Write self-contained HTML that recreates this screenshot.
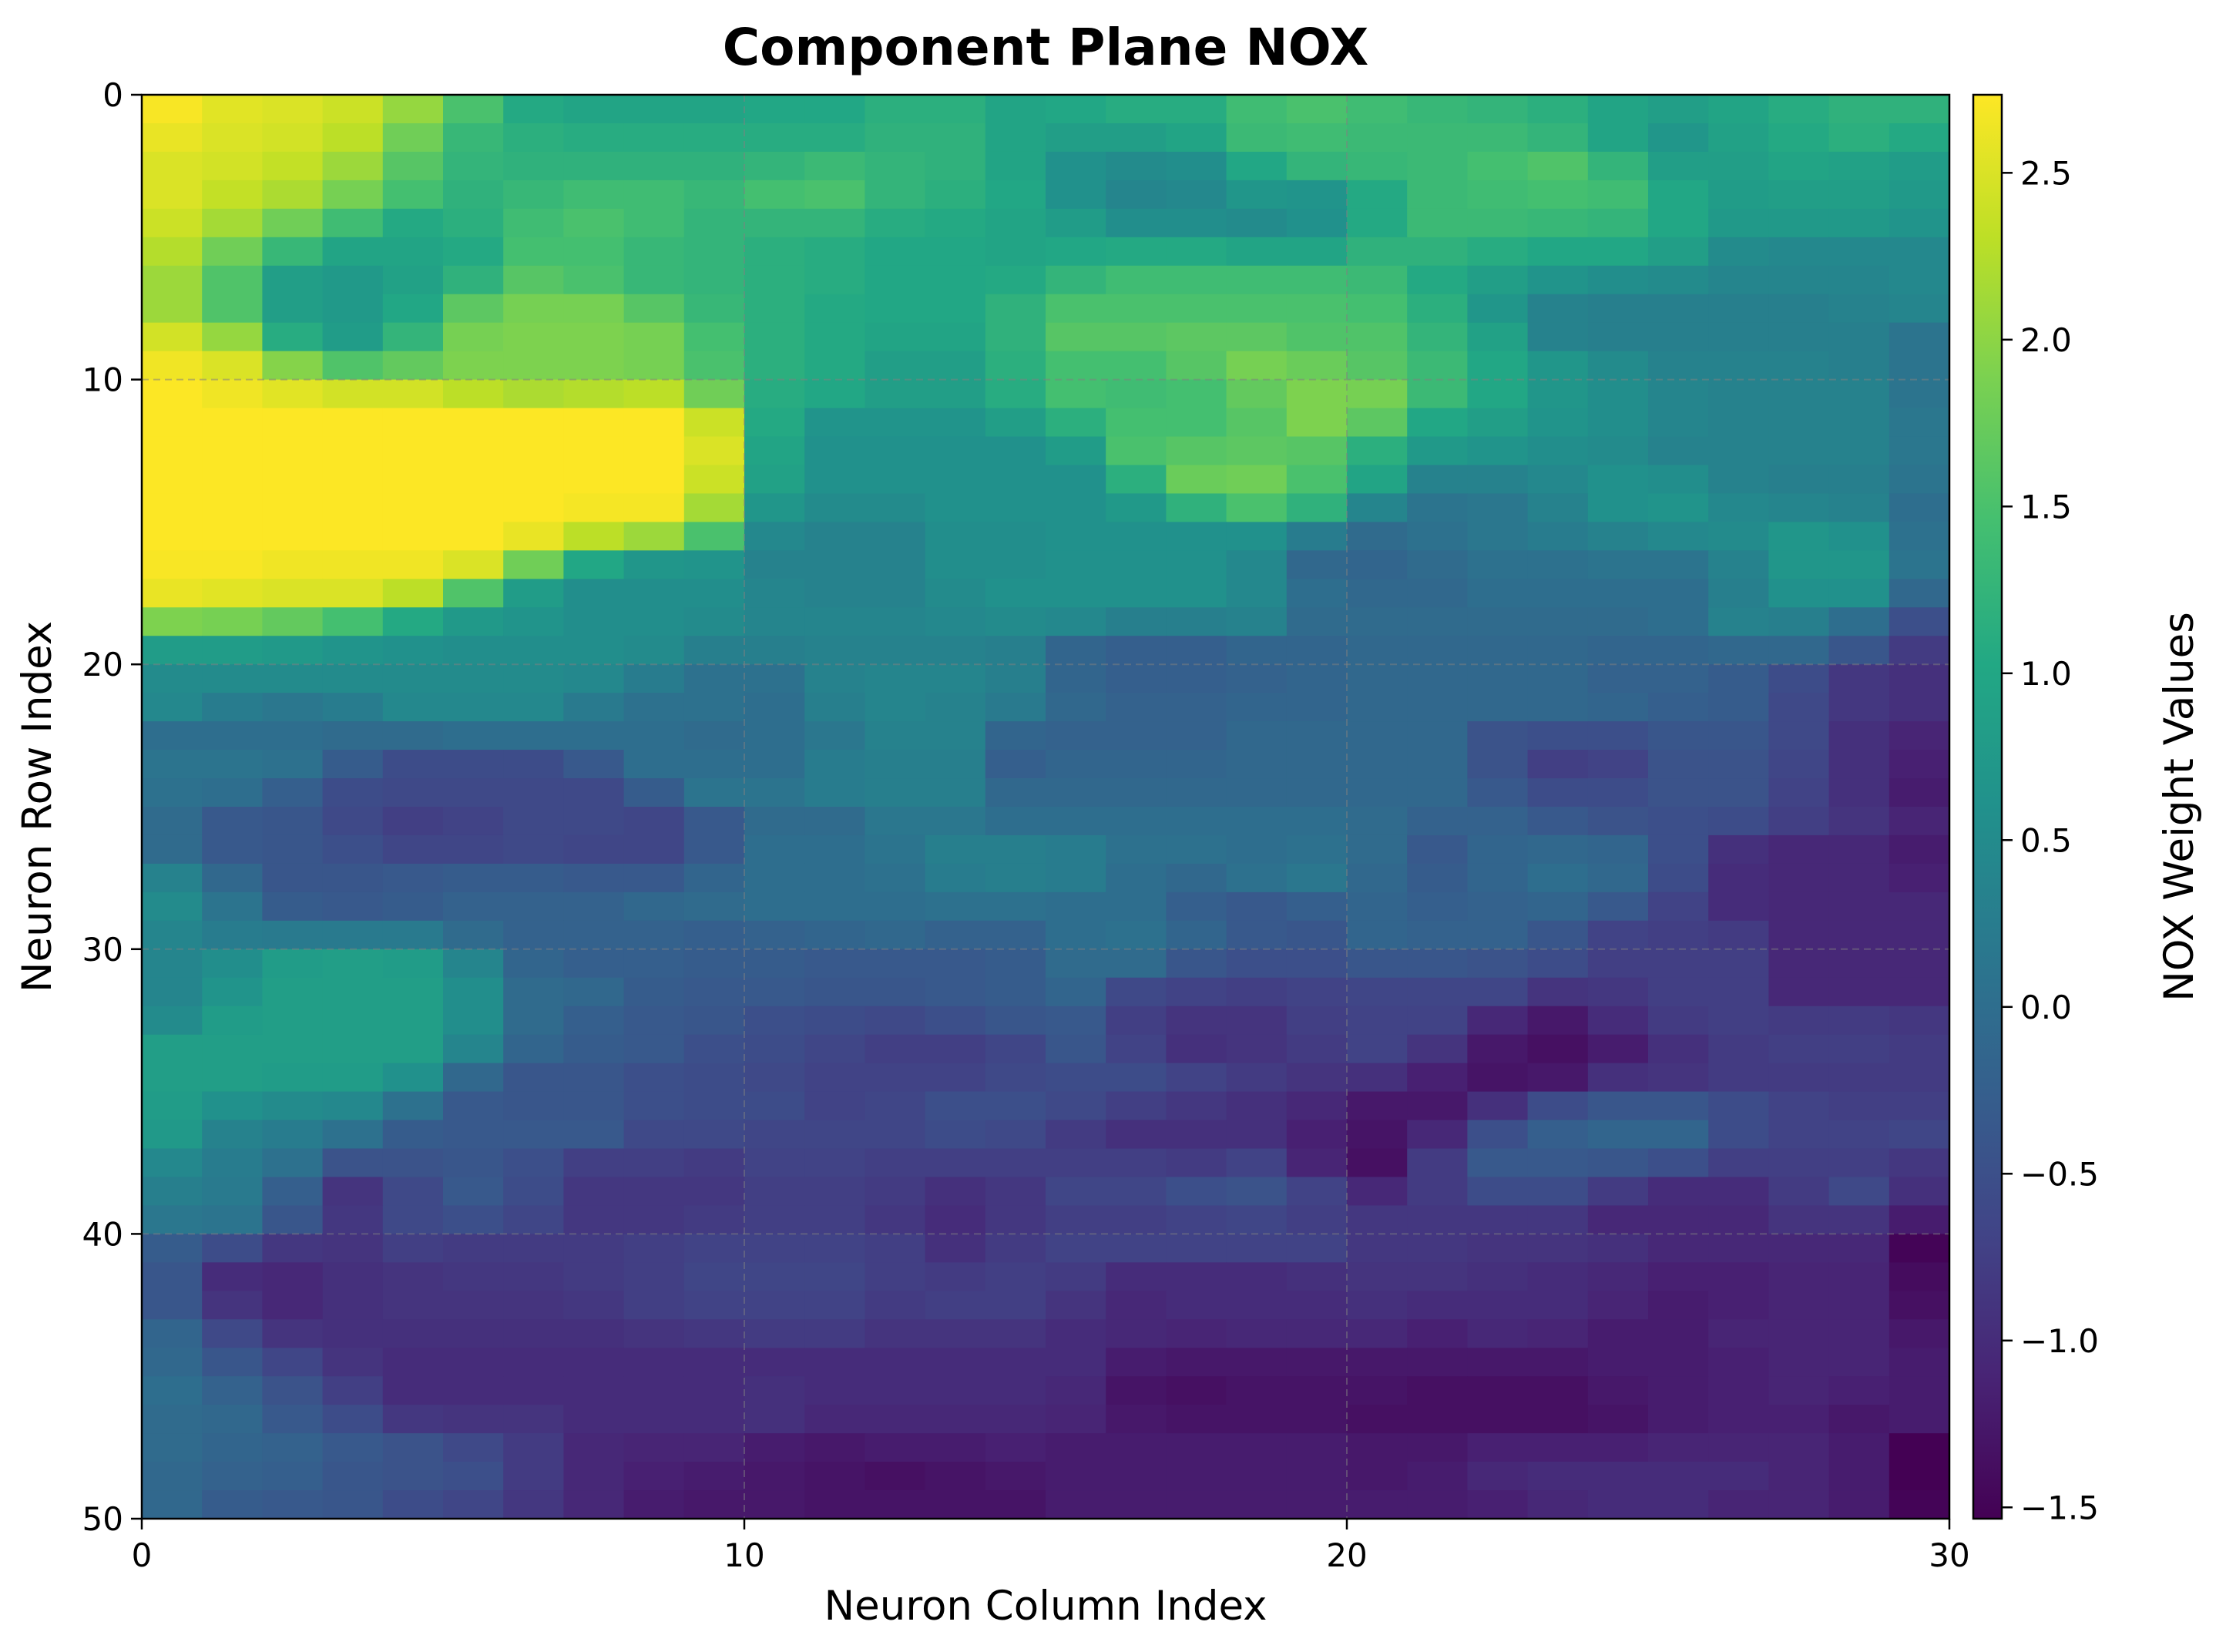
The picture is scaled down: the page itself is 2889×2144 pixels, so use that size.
<!DOCTYPE html>
<html><head><meta charset="utf-8">
<style>
html,body{margin:0;padding:0;background:#fff;}
svg{display:block;font-family:"DejaVu Sans","Liberation Sans",sans-serif;}
</style></head>
<body>
<svg id="chart" width="2889" height="2144" viewBox="0 0 2889 2144" xmlns="http://www.w3.org/2000/svg">
<rect width="2889" height="2144" fill="#fff"/>
<text x="1357" y="84" text-anchor="middle" font-size="66" font-weight="bold">Component Plane NOX</text>
<g id="heat"></g>
<g id="grid"></g>
<rect x="184" y="123" width="2346" height="1848" fill="none" stroke="#000" stroke-width="2.5"/>
<g id="xt"></g>
<g id="yt"></g>
<text x="1357" y="2102" text-anchor="middle" font-size="53">Neuron Column Index</text>
<text transform="translate(66,1047) rotate(-90)" text-anchor="middle" font-size="53">Neuron Row Index</text>
<defs><linearGradient id="vg" x1="0" y1="1" x2="0" y2="0"></linearGradient></defs>
<rect x="2561" y="123" width="37" height="1848" fill="url(#vg)" stroke="#000" stroke-width="2.5"/>
<g id="ct"></g>
<text transform="translate(2846,1047) rotate(-90)" text-anchor="middle" font-size="53">NOX Weight Values</text>
</svg>
<script>
const xTicks=[0,10,20,30];
const yTicks=[0,10,20,30,40,50];
const cbTicks=[2.5,2.0,1.5,1.0,0.5,0.0,-0.5,-1.0,-1.5];
const cbLabels=["2.5","2.0","1.5","1.0","0.5","0.0","\u22120.5","\u22121.0","\u22121.5"];
const vmin=-1.534, vmax=2.734;
const left=[
[2.7,2.55,2.5,2.4,2.05,1.5,1.05,0.95,0.95,0.95,1.0,1.0,1.15,1.15,0.95],
[2.6,2.5,2.45,2.3,1.8,1.3,1.15,1.1,1.1,1.1,1.1,1.1,1.2,1.2,0.95],
[2.5,2.45,2.35,2.1,1.6,1.25,1.2,1.2,1.2,1.2,1.25,1.35,1.25,1.2,0.95],
[2.5,2.35,2.2,1.85,1.45,1.2,1.3,1.4,1.4,1.3,1.45,1.5,1.25,1.15,1.0],
[2.4,2.15,1.8,1.4,1.05,1.15,1.4,1.5,1.4,1.25,1.25,1.25,1.1,1.05,0.95],
[2.25,1.8,1.3,0.95,0.95,1.05,1.45,1.45,1.3,1.25,1.15,1.1,1.0,1.0,0.95],
[2.1,1.55,0.85,0.75,0.9,1.2,1.6,1.5,1.3,1.25,1.15,1.1,1.0,1.0,1.05],
[2.1,1.55,0.85,0.75,1.0,1.65,1.85,1.85,1.6,1.3,1.15,1.05,1.0,1.0,1.2],
[2.45,2.05,1.1,0.8,1.25,1.85,1.9,1.9,1.85,1.45,1.15,1.05,0.95,0.95,1.2],
[2.65,2.5,1.95,1.55,1.7,1.9,1.9,1.9,1.85,1.5,1.15,1.05,0.85,0.85,1.15],
[2.73,2.65,2.55,2.45,2.45,2.3,2.2,2.25,2.3,1.8,1.1,1.0,0.85,0.85,1.1],
[2.73,2.73,2.73,2.73,2.73,2.73,2.73,2.73,2.73,2.4,1.05,0.65,0.65,0.65,0.85],
[2.73,2.73,2.73,2.73,2.73,2.73,2.73,2.73,2.73,2.5,0.95,0.6,0.6,0.6,0.6],
[2.73,2.73,2.73,2.73,2.73,2.73,2.73,2.73,2.73,2.4,0.9,0.6,0.6,0.6,0.6],
[2.73,2.73,2.73,2.73,2.73,2.73,2.73,2.68,2.68,2.15,0.7,0.5,0.5,0.6,0.6],
[2.73,2.73,2.73,2.73,2.73,2.73,2.6,2.3,2.1,1.5,0.45,0.35,0.35,0.55,0.55],
[2.7,2.7,2.65,2.65,2.65,2.5,1.8,1.0,0.7,0.65,0.35,0.35,0.35,0.55,0.55],
[2.6,2.55,2.5,2.5,2.3,1.55,0.8,0.55,0.55,0.55,0.4,0.35,0.35,0.5,0.6],
[1.9,1.85,1.7,1.45,1.05,0.75,0.65,0.55,0.55,0.5,0.4,0.4,0.4,0.45,0.5],
[0.8,0.8,0.75,0.65,0.6,0.55,0.55,0.55,0.5,0.3,0.3,0.35,0.35,0.35,0.3],
[0.5,0.5,0.5,0.5,0.5,0.5,0.5,0.45,0.25,0.05,0.05,0.35,0.4,0.4,0.3],
[0.45,0.25,0.15,0.25,0.45,0.45,0.45,0.2,0.05,0.05,0.0,0.3,0.4,0.35,0.2],
[0.0,0.0,0.0,-0.05,-0.05,0.0,0.0,0.0,0.0,-0.05,0.0,0.15,0.35,0.35,-0.15],
[0.1,0.1,0.05,-0.3,-0.55,-0.55,-0.55,-0.35,0.0,0.0,0.0,0.25,0.3,0.3,-0.25],
[0.05,0.0,-0.25,-0.55,-0.6,-0.6,-0.6,-0.6,-0.3,0.1,0.1,0.25,0.3,0.3,-0.1],
[-0.05,-0.35,-0.4,-0.6,-0.75,-0.7,-0.6,-0.6,-0.65,-0.35,-0.05,-0.05,0.15,0.15,0.0],
[-0.05,-0.35,-0.4,-0.5,-0.65,-0.65,-0.6,-0.65,-0.65,-0.35,0.0,0.0,0.1,0.3,0.3],
[0.35,-0.1,-0.4,-0.4,-0.35,-0.3,-0.3,-0.35,-0.35,-0.15,0.0,0.0,0.05,0.25,0.3],
[0.5,0.1,-0.3,-0.35,-0.3,-0.2,-0.2,-0.2,-0.1,-0.05,0.0,0.0,0.0,0.05,0.05],
[0.4,0.25,0.2,0.2,0.2,-0.05,-0.2,-0.2,-0.2,-0.25,-0.2,-0.15,-0.1,-0.2,-0.2],
[0.4,0.55,0.8,0.85,0.8,0.4,-0.15,-0.25,-0.25,-0.3,-0.3,-0.35,-0.35,-0.35,-0.3],
[0.4,0.65,0.85,0.85,0.85,0.55,-0.05,-0.1,-0.3,-0.35,-0.35,-0.4,-0.4,-0.35,-0.3],
[0.5,0.8,0.85,0.85,0.85,0.55,-0.05,-0.25,-0.35,-0.4,-0.5,-0.55,-0.6,-0.5,-0.4],
[0.85,0.85,0.85,0.85,0.85,0.4,-0.15,-0.3,-0.35,-0.5,-0.55,-0.65,-0.75,-0.75,-0.65],
[0.85,0.85,0.8,0.8,0.6,-0.1,-0.4,-0.4,-0.5,-0.55,-0.6,-0.7,-0.7,-0.7,-0.6],
[0.8,0.6,0.5,0.45,0.05,-0.35,-0.4,-0.4,-0.5,-0.55,-0.55,-0.7,-0.65,-0.5,-0.5],
[0.75,0.35,0.25,0.05,-0.3,-0.35,-0.35,-0.35,-0.6,-0.6,-0.65,-0.65,-0.65,-0.55,-0.6],
[0.45,0.25,0.05,-0.45,-0.45,-0.4,-0.5,-0.75,-0.75,-0.8,-0.7,-0.7,-0.75,-0.75,-0.75],
[0.3,0.2,-0.25,-0.9,-0.6,-0.35,-0.55,-0.85,-0.85,-0.85,-0.75,-0.75,-0.8,-0.95,-0.85],
[0.15,0.1,-0.4,-0.85,-0.6,-0.5,-0.65,-0.85,-0.85,-0.8,-0.75,-0.75,-0.85,-1.0,-0.85],
[-0.3,-0.55,-0.85,-0.9,-0.75,-0.8,-0.8,-0.8,-0.75,-0.7,-0.7,-0.7,-0.75,-0.95,-0.8],
[-0.4,-1.0,-1.05,-0.95,-0.9,-0.85,-0.85,-0.8,-0.75,-0.65,-0.65,-0.65,-0.75,-0.8,-0.75],
[-0.4,-0.9,-1.05,-0.95,-0.9,-0.9,-0.9,-0.85,-0.75,-0.7,-0.7,-0.7,-0.8,-0.75,-0.75],
[-0.15,-0.6,-0.9,-0.95,-0.95,-0.95,-0.95,-0.95,-0.9,-0.85,-0.8,-0.8,-0.9,-0.9,-0.9],
[-0.1,-0.4,-0.65,-0.9,-1.0,-1.0,-1.0,-1.0,-1.0,-1.0,-1.0,-1.0,-1.0,-1.0,-1.0],
[0.0,-0.2,-0.45,-0.75,-1.0,-1.0,-1.0,-1.0,-1.0,-1.0,-0.95,-1.0,-1.0,-1.0,-1.0],
[-0.05,-0.1,-0.35,-0.55,-0.85,-0.9,-0.9,-1.0,-1.0,-1.0,-0.95,-1.05,-1.05,-1.05,-1.05],
[-0.05,-0.15,-0.2,-0.35,-0.45,-0.6,-0.8,-1.05,-1.1,-1.1,-1.2,-1.25,-1.2,-1.2,-1.15],
[-0.1,-0.2,-0.25,-0.4,-0.45,-0.5,-0.8,-1.05,-1.15,-1.2,-1.25,-1.3,-1.35,-1.3,-1.25],
[-0.1,-0.3,-0.35,-0.4,-0.55,-0.65,-0.85,-1.05,-1.2,-1.25,-1.25,-1.3,-1.3,-1.3,-1.3]];
const right=[
[1.0,1.1,1.1,1.4,1.5,1.4,1.3,1.25,1.15,0.95,0.85,0.95,1.1,1.2,1.2],
[0.85,0.85,0.95,1.35,1.4,1.35,1.35,1.35,1.25,0.95,0.7,0.9,1.05,1.15,1.05],
[0.6,0.5,0.55,1.0,1.25,1.3,1.35,1.45,1.55,1.25,0.85,0.85,0.95,0.9,0.8],
[0.6,0.4,0.45,0.7,0.65,1.05,1.35,1.4,1.45,1.4,1.0,0.8,0.85,0.85,0.75],
[0.8,0.55,0.55,0.5,0.6,1.05,1.35,1.35,1.3,1.25,1.0,0.75,0.75,0.75,0.65],
[1.0,1.05,1.05,0.95,0.95,1.2,1.2,1.1,1.0,1.0,0.85,0.5,0.45,0.45,0.45],
[1.25,1.4,1.4,1.4,1.4,1.35,1.05,0.85,0.65,0.55,0.5,0.4,0.4,0.4,0.45],
[1.5,1.5,1.5,1.5,1.5,1.45,1.15,0.7,0.35,0.3,0.3,0.3,0.3,0.35,0.4],
[1.6,1.6,1.65,1.65,1.55,1.55,1.25,0.9,0.35,0.3,0.3,0.3,0.3,0.3,0.1],
[1.45,1.45,1.6,1.85,1.75,1.6,1.35,1.0,0.7,0.5,0.35,0.35,0.35,0.3,0.1],
[1.45,1.4,1.45,1.7,1.9,1.85,1.35,1.0,0.7,0.55,0.4,0.35,0.35,0.35,0.1],
[1.15,1.45,1.45,1.6,1.9,1.65,1.0,0.85,0.65,0.55,0.4,0.35,0.35,0.35,0.15],
[0.8,1.5,1.6,1.65,1.6,1.15,0.75,0.65,0.55,0.5,0.35,0.35,0.35,0.35,0.15],
[0.6,1.15,1.75,1.8,1.5,0.95,0.35,0.35,0.45,0.6,0.55,0.35,0.3,0.3,0.1],
[0.6,0.75,1.2,1.5,1.2,0.4,0.1,0.15,0.35,0.6,0.65,0.45,0.4,0.35,0.0],
[0.6,0.6,0.6,0.6,0.25,-0.05,0.05,0.15,0.25,0.35,0.45,0.5,0.7,0.6,0.05],
[0.6,0.6,0.6,0.45,-0.1,-0.15,-0.05,0.05,0.05,0.1,0.1,0.35,0.7,0.7,0.1],
[0.6,0.6,0.6,0.45,0.0,-0.1,-0.1,0.0,0.0,0.0,0.0,0.3,0.6,0.6,-0.1],
[0.45,0.3,0.3,0.35,-0.05,-0.05,-0.05,-0.05,-0.05,-0.05,0.0,0.35,0.3,0.0,-0.5],
[-0.15,-0.25,-0.25,-0.15,-0.15,-0.1,-0.1,-0.1,-0.1,-0.15,-0.15,-0.1,-0.1,-0.4,-0.8],
[-0.15,-0.25,-0.25,-0.2,-0.15,-0.1,-0.1,-0.1,-0.1,-0.2,-0.2,-0.3,-0.55,-0.85,-0.95],
[-0.1,-0.2,-0.2,-0.15,-0.15,-0.1,-0.1,-0.1,-0.1,-0.15,-0.25,-0.3,-0.6,-0.85,-0.95],
[-0.2,-0.2,-0.2,-0.1,-0.1,-0.1,-0.1,-0.45,-0.5,-0.5,-0.4,-0.4,-0.6,-0.95,-1.1],
[-0.15,-0.15,-0.15,-0.1,-0.1,-0.1,-0.1,-0.45,-0.75,-0.7,-0.45,-0.45,-0.65,-0.95,-1.15],
[-0.1,-0.1,-0.1,-0.1,-0.1,-0.1,-0.1,-0.35,-0.55,-0.55,-0.45,-0.45,-0.7,-0.95,-1.2],
[0.0,0.0,0.0,0.0,0.0,-0.05,-0.2,-0.2,-0.35,-0.45,-0.5,-0.55,-0.75,-0.9,-1.1],
[0.25,0.05,0.05,0.0,0.05,-0.05,-0.35,-0.15,-0.1,-0.15,-0.5,-0.95,-1.05,-1.05,-1.2],
[0.25,0.0,-0.1,0.05,0.15,-0.1,-0.3,-0.15,0.0,-0.1,-0.55,-1.0,-1.05,-1.05,-1.15],
[0.0,0.0,-0.25,-0.35,-0.25,-0.15,-0.25,-0.2,-0.15,-0.35,-0.7,-1.0,-1.05,-1.05,-1.05],
[0.0,0.05,-0.15,-0.35,-0.4,-0.15,-0.2,-0.2,-0.4,-0.7,-0.75,-0.8,-1.05,-1.05,-1.05],
[-0.05,-0.05,-0.4,-0.5,-0.5,-0.4,-0.4,-0.45,-0.55,-0.75,-0.75,-0.75,-1.05,-1.05,-1.05],
[-0.15,-0.6,-0.7,-0.75,-0.7,-0.65,-0.65,-0.65,-0.9,-0.85,-0.75,-0.75,-1.05,-1.05,-1.05],
[-0.35,-0.75,-0.9,-0.9,-0.75,-0.7,-0.7,-1.05,-1.25,-1.0,-0.8,-0.75,-0.8,-0.8,-0.85],
[-0.4,-0.7,-0.95,-0.9,-0.8,-0.7,-0.9,-1.25,-1.35,-1.2,-0.95,-0.8,-0.75,-0.75,-0.8],
[-0.55,-0.55,-0.7,-0.8,-0.9,-0.95,-1.15,-1.3,-1.25,-0.95,-0.9,-0.8,-0.8,-0.8,-0.8],
[-0.6,-0.75,-0.85,-0.95,-1.05,-1.25,-1.25,-0.95,-0.55,-0.4,-0.4,-0.55,-0.7,-0.75,-0.75],
[-0.8,-0.95,-0.95,-0.95,-1.15,-1.3,-1.05,-0.5,-0.25,-0.15,-0.15,-0.55,-0.7,-0.7,-0.65],
[-0.75,-0.75,-0.8,-0.7,-1.1,-1.35,-0.8,-0.35,-0.35,-0.4,-0.5,-0.75,-0.75,-0.75,-0.85],
[-0.65,-0.65,-0.5,-0.45,-0.7,-1.05,-0.8,-0.55,-0.55,-0.8,-1.0,-1.0,-0.8,-0.6,-0.95],
[-0.75,-0.75,-0.7,-0.65,-0.75,-0.85,-0.85,-0.85,-0.85,-1.05,-1.05,-1.05,-0.9,-0.9,-1.2],
[-0.7,-0.7,-0.7,-0.7,-0.7,-0.85,-0.85,-0.9,-0.9,-0.95,-1.05,-1.05,-1.05,-1.05,-1.5],
[-0.8,-1.0,-1.0,-1.0,-0.95,-0.9,-0.9,-0.95,-1.0,-1.05,-1.15,-1.15,-1.1,-1.1,-1.4],
[-0.9,-1.05,-1.0,-1.0,-1.0,-0.95,-1.0,-1.0,-1.0,-1.1,-1.2,-1.15,-1.1,-1.1,-1.35],
[-1.0,-1.05,-1.1,-1.05,-1.05,-1.05,-1.15,-1.05,-1.1,-1.2,-1.2,-1.1,-1.1,-1.1,-1.25],
[-1.0,-1.2,-1.25,-1.25,-1.25,-1.25,-1.25,-1.25,-1.25,-1.2,-1.2,-1.15,-1.1,-1.1,-1.2],
[-1.05,-1.3,-1.35,-1.3,-1.3,-1.3,-1.35,-1.35,-1.35,-1.25,-1.2,-1.15,-1.1,-1.15,-1.2],
[-1.1,-1.25,-1.3,-1.3,-1.3,-1.35,-1.35,-1.35,-1.35,-1.3,-1.2,-1.15,-1.15,-1.25,-1.2],
[-1.2,-1.2,-1.2,-1.2,-1.2,-1.25,-1.25,-1.15,-1.15,-1.15,-1.1,-1.1,-1.1,-1.2,-1.55],
[-1.2,-1.2,-1.2,-1.2,-1.2,-1.25,-1.2,-1.05,-1.0,-1.0,-1.0,-1.0,-1.1,-1.2,-1.55],
[-1.2,-1.2,-1.2,-1.2,-1.2,-1.2,-1.2,-1.15,-1.05,-1.0,-1.0,-1.1,-1.1,-1.2,-1.5]];

const NS="http://www.w3.org/2000/svg";
const PL=184,PR=2530,PT=123,PB=1971,CBT=123,CBB=1971;
const xs=c=>PL+(PR-PL)*c/30;
const ys=r=>PT+(PB-PT)*r/50;
const cs=v=>CBT+(CBB-CBT)*(vmax-v)/(vmax-vmin);
const VIR=["#440154","#482475","#414487","#355f8d","#2a788e","#21918c","#22a884","#44bf70","#7ad151","#bddf26","#fde725"];
function hex(h){return [1,3,5].map(i=>parseInt(h.substr(i,2),16));}
function viridis(v){
  let t=(v-vmin)/(vmax-vmin);t=Math.max(0,Math.min(1,t));
  const p=t*10,i=Math.min(9,Math.floor(p)),f=p-i;
  const a=hex(VIR[i]),b=hex(VIR[i+1]);
  return "rgb("+a.map((x,k)=>Math.round(x+(b[k]-x)*f)).join(",")+")";
}
function mk(tag,attrs,parent){const e=document.createElementNS(NS,tag);for(const k in attrs)e.setAttribute(k,attrs[k]);parent.appendChild(e);return e;}

const heat=document.getElementById('heat');
for(let r=0;r<50;r++){
  const row=left[r].concat(right[r]);
  for(let c=0;c<30;c++){
    const e=mk('rect',{x:xs(c),y:ys(r),width:xs(c+1)-xs(c)+0.6,height:ys(r+1)-ys(r)+0.6,fill:viridis(row[c])},heat);
    
    
  }
}
const grid=document.getElementById('grid');
xTicks.forEach(t=>{if(t>0&&t<30){const e=mk('line',{x1:xs(t),x2:xs(t),y1:PT,y2:PB,stroke:"#808080","stroke-opacity":0.5,"stroke-width":2,"stroke-dasharray":"9,6"},grid);

}});
yTicks.forEach(t=>{if(t>0&&t<50){const e=mk('line',{x1:PL,x2:PR,y1:ys(t),y2:ys(t),stroke:"#808080","stroke-opacity":0.5,"stroke-width":2,"stroke-dasharray":"9,6"},grid);

}});
const xt=document.getElementById('xt');
xTicks.forEach(t=>{mk('line',{x1:xs(t),x2:xs(t),y1:PB,y2:PB+14,stroke:"#000","stroke-width":2.5},xt);
const e=mk('text',{x:xs(t),y:PB+62,"text-anchor":"middle","font-size":42},xt);e.textContent=t;

});
const yt=document.getElementById('yt');
yTicks.forEach(t=>{mk('line',{x1:PL-14,x2:PL,y1:ys(t),y2:ys(t),stroke:"#000","stroke-width":2.5},yt);
const e=mk('text',{x:PL-24,y:ys(t)+15,"text-anchor":"end","font-size":42},yt);e.textContent=t;

});
const g=document.getElementById('vg');
VIR.forEach((c,i)=>mk('stop',{offset:(i*10)+"%","stop-color":c},g));
const ct=document.getElementById('ct');
cbTicks.forEach((t,i)=>{mk('line',{x1:2598,x2:2612,y1:cs(t),y2:cs(t),stroke:"#000","stroke-width":2.5},ct);
const e=mk('text',{x:2622,y:cs(t)+15,"font-size":42},ct);e.textContent=cbLabels[i];

});
</script>
</body></html>
